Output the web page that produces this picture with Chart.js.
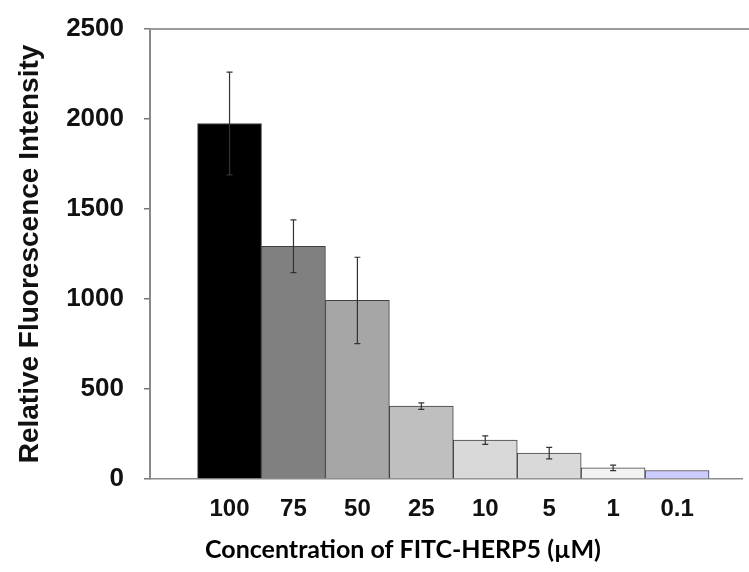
<!DOCTYPE html>
<html>
<head>
<meta charset="utf-8">
<script src="https://cdn.jsdelivr.net/npm/chart.js@4.4.1/dist/chart.umd.min.js"></script>
<style>
  html, body { margin: 0; padding: 0; background: #fff; }
  #wrap { width: 749px; height: 572px; }
</style>
</head>
<body>
<div id="wrap"><canvas id="myChart" width="749" height="572"></canvas></div>
<script>
// Data
const concentrations = ["100", "75", "50", "25", "10", "5", "1", "0.1"];
const intensity = [1975, 1293, 992, 405, 216, 144, 62, 47];
const errors = [285, 147, 240, 18, 24, 32, 15, 0];
const barColors = ['#000000', '#808080', '#a6a6a6', '#bfbfbf', '#d9d9d9', '#d9d9d9', '#f2f2f2', '#ccccff'];
const yTicks = [0, 500, 1000, 1500, 2000, 2500];

// error bars drawn with the y scale
const errorBars = {
    id: 'errorBars',
    afterDatasetsDraw(chart) {
        const ctx = chart.ctx;
        const y = chart.scales.y;
        const meta = chart.getDatasetMeta(0);
        ctx.save();
        ctx.strokeStyle = '#333';
        ctx.lineWidth = 1.2;
        meta.data.forEach((bar, i) => {
            if (!errors[i]) return;
            const top = y.getPixelForValue(intensity[i] + errors[i]);
            const bot = y.getPixelForValue(intensity[i] - errors[i]);
            ctx.beginPath();
            ctx.moveTo(bar.x, top); ctx.lineTo(bar.x, bot);
            ctx.moveTo(bar.x - 3, top); ctx.lineTo(bar.x + 3, top);
            ctx.moveTo(bar.x - 3, bot); ctx.lineTo(bar.x + 3, bot);
            ctx.stroke();
        });
        ctx.restore();
    }
};

// top frame line and the x axis title (sits left of the axis centre in the original)
const extras = {
    id: 'extras',
    afterDraw(chart) {
        const ctx = chart.ctx;
        const y = chart.scales.y;
        const area = chart.chartArea;
        ctx.save();
        const yTop = Math.round(y.getPixelForValue(yTicks[yTicks.length - 1]));
        ctx.fillStyle = '#9a9a9a';
        ctx.fillRect(area.left, yTop - 1, chart.width - area.left, 2);

        ctx.font = 'bold 25px Lato';
        ctx.fillStyle = '#000';
        ctx.textAlign = 'center';
        ctx.textBaseline = 'middle';
        ctx.fillText('Concentration of FITC-HERP5 (µM)', area.left + 253, 550);
        ctx.restore();
    }
};

const ctx = document.getElementById('myChart').getContext('2d');
const myChart = new Chart(ctx, {
    type: 'bar',
    data: {
        datasets: [{
            data: intensity.map((v, i) => ({ x: i, y: v })),
            backgroundColor: barColors,
            borderColor: '#404040',
            borderWidth: 1,
            borderSkipped: 'bottom',
            barPercentage: 1,
            categoryPercentage: 1
        }]
    },
    options: {
        responsive: false,
        animation: false,
        layout: { padding: { top: 29, right: 0, bottom: 0, left: 0 } },
        plugins: {
            legend: { display: false },
            tooltip: { enabled: false }
        },
        scales: {
            x: {
                type: 'linear',
                offset: false,
                min: -1.244,
                max: 8.02,
                afterFit: (scale) => { scale.height = 93; },
                grid: { display: false, offset: false },
                border: { display: true, color: '#8c8c8c', width: 1.5 },
                ticks: {
                    stepSize: 1,
                    includeBounds: false,
                    padding: 8,
                    color: '#111',
                    font: { family: 'Liberation Sans', size: 24, weight: 'bold' },
                    callback: (v) => (Number.isInteger(v) && v >= 0 && v < concentrations.length) ? concentrations[v] : ''
                }
            },
            y: {
                min: 0,
                max: 2500,
                afterFit: (scale) => {
                    scale.width = 150;
                    scale.paddingTop = 0;
                    scale.paddingBottom = 0;
                },
                afterBuildTicks: (scale) => { scale.ticks = yTicks.map(v => ({ value: v })); },
                border: { display: true, color: '#888', width: 2 },
                grid: {
                    color: 'rgba(0,0,0,0)',
                    tickColor: '#777',
                    tickLength: 6,
                    lineWidth: 1.5
                },
                ticks: {
                    padding: 20,
                    color: '#111',
                    font: { family: 'Liberation Sans', size: 26, weight: 'bold' },
                    callback: (v) => String(v)
                },
                title: {
                    display: true,
                    text: 'Relative Fluorescence Intensity',
                    color: '#111',
                    padding: { top: 13, bottom: 0 },
                    font: { family: 'Liberation Sans', size: 28, weight: 'bold' }
                }
            }
        }
    },
    plugins: [errorBars, extras]
});
</script>
</body>
</html>
